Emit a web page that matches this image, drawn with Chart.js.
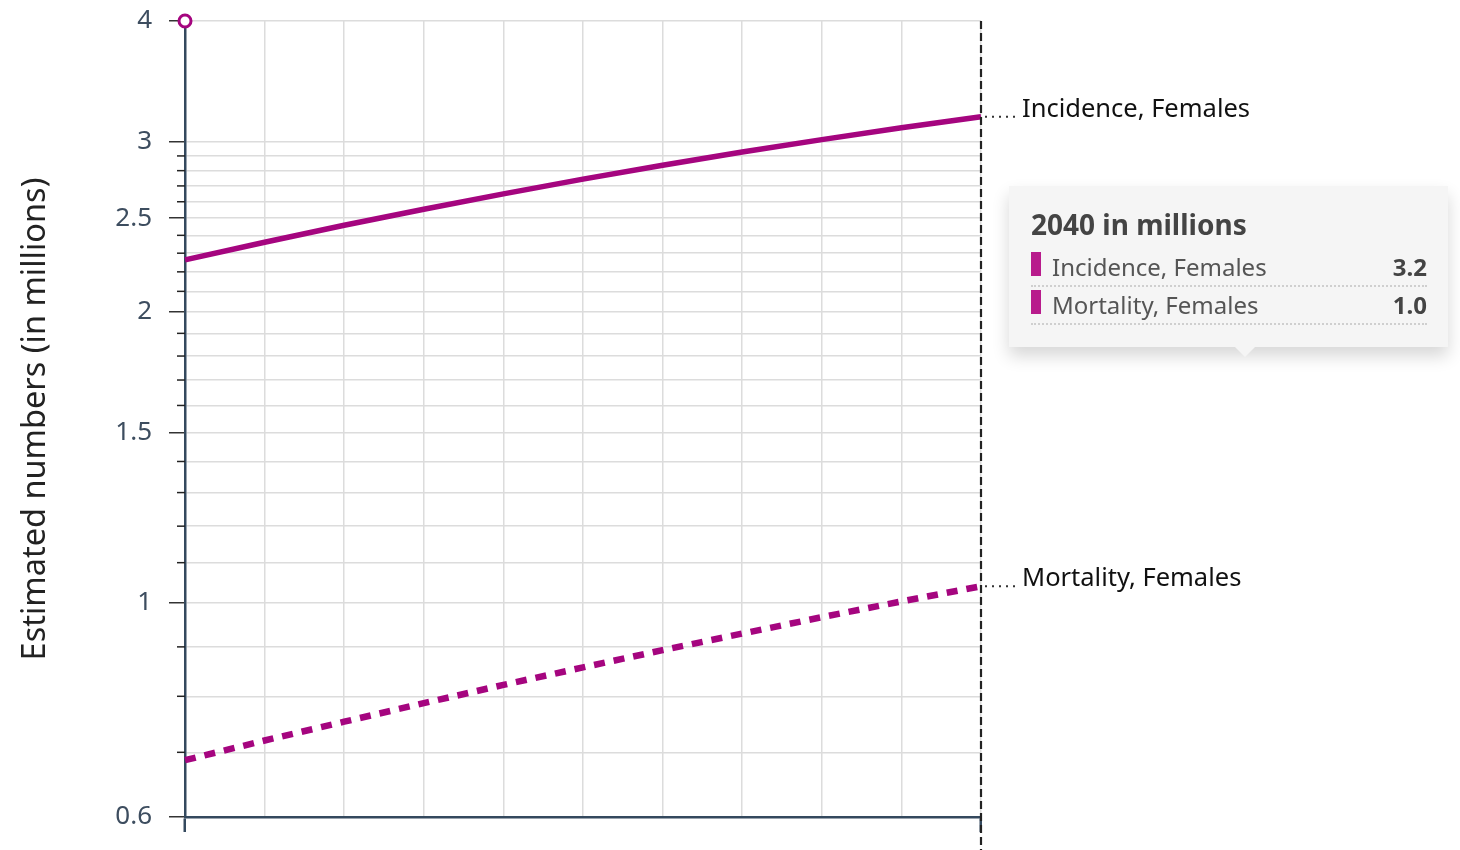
<!DOCTYPE html>
<html>
<head>
<meta charset="utf-8">
<script src="https://cdn.jsdelivr.net/npm/chart.js@4.4.1/dist/chart.umd.min.js"></script>
<style>
  body { margin: 0; background: #fff; font-family: "Noto Sans", sans-serif; }
  #wrap { position: relative; width: 1460px; height: 850px; overflow: hidden; }
  #tip {
    position: absolute; left: 1009px; top: 186px; width: 439px; height: 161px;
    box-sizing: border-box; background: #f5f5f5;
    box-shadow: 0 9px 16px rgba(0, 0, 0, 0.16);
    padding: 20px 21px 0 22px;
  }
  #tip:after {
    content: ''; position: absolute; left: 226px; bottom: -10px;
    border-left: 10px solid transparent; border-right: 10px solid transparent;
    border-top: 10px solid #f5f5f5;
  }
  .tt-title { font-weight: 700; font-size: 28px; line-height: 36px; color: #444; margin-bottom: 7px; }
  .tt-row { display: flex; align-items: center; height: 36px; border-bottom: 2px dotted #cfcfcf; }
  .tt-sw { width: 10px; height: 24px; margin-right: 11px; position: relative; top: -3px; }
  .tt-lbl { flex: 1; font-size: 24px; color: #555; line-height: 36px; }
  .tt-val { font-size: 24px; font-weight: 700; color: #444; line-height: 36px; }
</style>
</head>
<body>
<div id="wrap">
  <canvas id="chart" width="1460" height="850"></canvas>
  <div id="tip"></div>
</div>
<script>
// Data
const years = ['2020', '2022', '2024', '2026', '2028', '2030', '2032', '2034', '2036', '2038', '2040'];
const incidence = [2.264, 2.361, 2.458, 2.554, 2.649, 2.744, 2.836, 2.927, 3.015, 3.101, 3.184];
const mortality = [0.687, 0.720, 0.753, 0.787, 0.822, 0.857, 0.893, 0.929, 0.966, 1.003, 1.040];
const markerValues = [4, null, null, null, null, null, null, null, null, null, null];
const seriesNames = ['Incidence, Females', 'Mortality, Females'];
const majorTicks = [0.6, 1, 1.5, 2, 2.5, 3, 4];
const minorTicks = [0.7, 0.8, 0.9, 1.1, 1.2, 1.3, 1.4, 1.6, 1.7, 1.8, 1.9, 2.1, 2.2, 2.3, 2.4, 2.6, 2.7, 2.8, 2.9];
const hoverYear = '2040';

const LINE = '#a5057f';
const SWATCH = '#b81b8c';
const AXIS = '#34495e';
const GRID = '#dcdcdc';

Chart.defaults.font.family = '"Noto Sans", sans-serif';

// minor ticks, hover crosshair and end-of-line labels
const overlay = {
    id: 'overlay',
    afterDraw(chart) {
        const { ctx, chartArea } = chart;
        const x = chart.scales.x;
        const y = chart.scales.y;
        ctx.save();

        ctx.strokeStyle = '#222';
        ctx.lineWidth = 1.5;
        minorTicks.forEach(v => {
            const py = y.getPixelForValue(v);
            ctx.beginPath();
            ctx.moveTo(chartArea.left - 8, py);
            ctx.lineTo(chartArea.left, py);
            ctx.stroke();
        });

        const hx = x.getPixelForValue(years.indexOf(hoverYear));
        ctx.setLineDash([8, 4]);
        ctx.lineWidth = 2.2;
        ctx.strokeStyle = '#222';
        ctx.beginPath();
        ctx.moveTo(hx, chartArea.top);
        ctx.lineTo(hx, chart.height);
        ctx.stroke();

        [incidence, mortality].forEach((vals, i) => {
            const py = y.getPixelForValue(vals[vals.length - 1]);
            ctx.setLineDash([2, 5]);
            ctx.lineWidth = 2;
            ctx.strokeStyle = '#333';
            ctx.beginPath();
            ctx.moveTo(hx + 4, py);
            ctx.lineTo(hx + 38, py);
            ctx.stroke();
            ctx.setLineDash([]);
            ctx.fillStyle = '#111';
            ctx.font = '25.5px "Noto Sans", sans-serif';
            ctx.textBaseline = 'alphabetic';
            ctx.textAlign = 'left';
            ctx.fillText(seriesNames[i], hx + 41, py);
        });

        ctx.restore();
    }
};

new Chart(document.getElementById('chart'), {
    type: 'line',
    data: {
        labels: years,
        datasets: [
            {
                label: seriesNames[0],
                data: incidence,
                borderColor: LINE,
                borderWidth: 5.5,
                pointRadius: 0,
                tension: 0
            },
            {
                label: seriesNames[1],
                data: mortality,
                borderColor: LINE,
                borderWidth: 6.5,
                borderDash: [11, 9],
                pointRadius: 0,
                tension: 0
            },
            {
                label: 'marker',
                data: markerValues,
                showLine: false,
                pointRadius: 6,
                pointBorderWidth: 3,
                pointBorderColor: LINE,
                pointBackgroundColor: '#fff',
                clip: false
            }
        ]
    },
    options: {
        responsive: false,
        animation: false,
        layout: { padding: { top: 21, right: 479, bottom: 18, left: 0 } },
        plugins: {
            legend: { display: false },
            tooltip: { enabled: false }
        },
        scales: {
            x: {
                ticks: { display: false },
                grid: {
                    color: GRID,
                    lineWidth: 1.5,
                    tickLength: 15,
                    tickWidth: 2.5,
                    tickColor: c => (c.index === 0 || c.index === years.length - 1) ? AXIS : 'transparent'
                },
                border: { color: AXIS, width: 2.5 }
            },
            y: {
                type: 'logarithmic',
                min: 0.6,
                max: 4,
                afterBuildTicks: s => {
                    s.ticks = majorTicks.concat(minorTicks)
                        .sort((a, b) => a - b)
                        .map(v => ({ value: v }));
                },
                afterFit: s => {
                    s.width = 185;
                    s.paddingTop = 0;
                    s.paddingBottom = 0;
                },
                ticks: {
                    autoSkip: false,
                    padding: 17,
                    color: '#3d4d5f',
                    font: { size: 26 },
                    callback: v => majorTicks.includes(v) ? String(v) : ''
                },
                grid: {
                    color: GRID,
                    lineWidth: 1.5,
                    tickLength: 16,
                    tickWidth: 1.5,
                    tickColor: c => majorTicks.includes(c.tick.value) ? '#333' : 'transparent'
                },
                border: { color: AXIS, width: 2.5 },
                title: {
                    display: true,
                    text: 'Estimated numbers (in millions)',
                    color: '#222',
                    font: { size: 32.5 },
                    padding: { top: 16, bottom: 0 }
                }
            }
        }
    },
    plugins: [overlay]
});

// Hover tooltip for the last year
const tip = document.getElementById('tip');
const idx = years.indexOf(hoverYear);
let html = `<div class="tt-title">${hoverYear} in millions</div>`;
[incidence, mortality].forEach((vals, i) => {
    html += `
        <div class="tt-row">
            <span class="tt-sw" style="background:${SWATCH}"></span>
            <span class="tt-lbl">${seriesNames[i]}</span>
            <span class="tt-val">${vals[idx].toFixed(1)}</span>
        </div>`;
});
tip.innerHTML = html;
</script>
</body>
</html>
